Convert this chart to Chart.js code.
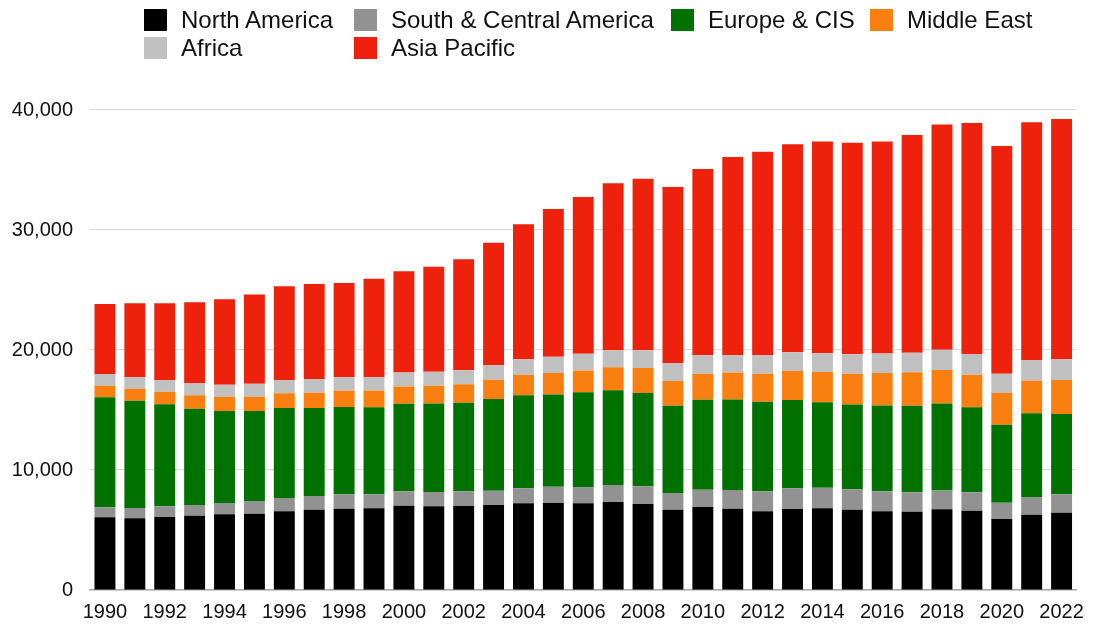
<!DOCTYPE html>
<html>
<head>
<meta charset="utf-8">
<script src="https://cdn.jsdelivr.net/npm/chart.js@4"></script>
<style>
  html, body { margin: 0; padding: 0; background: #ffffff; }
  #wrap { position: relative; width: 1094px; height: 625px; }
  #chart { position: absolute; left: 0; top: 0; }
  #legend { position: absolute; left: 0; top: 0; width: 1094px; height: 70px;
            font-family: "Liberation Sans", Arial, Helvetica, sans-serif; font-size: 24px; color: #111; }
  .item { position: absolute; height: 23px; line-height: 23px; white-space: nowrap; }
  .box { position: absolute; left: 0; top: 0; width: 23px; height: 22px; }
  .txt { position: absolute; left: 37px; top: -1px; }
</style>
</head>
<body>
<div id="wrap">
  <canvas id="chart" width="1094" height="625"></canvas>
  <div id="legend"></div>
</div>
<script>
const years = ["1990","1991","1992","1993","1994","1995","1996","1997","1998","1999","2000","2001","2002","2003","2004","2005","2006","2007","2008","2009","2010","2011","2012","2013","2014","2015","2016","2017","2018","2019","2020","2021","2022"];

const northAmerica = [6060,5970,6080,6190,6310,6360,6560,6690,6780,6810,7030,6970,7000,7080,7220,7250,7220,7330,7170,6690,6920,6780,6570,6750,6810,6690,6560,6530,6720,6610,5920,6280,6440];
const southCentralAmerica = [830,860,890,890,940,1060,1110,1140,1190,1170,1190,1190,1220,1190,1250,1360,1330,1420,1470,1390,1440,1560,1650,1720,1720,1700,1670,1610,1580,1530,1360,1470,1530];
const europeCIS = [9170,8950,8500,8030,7670,7500,7500,7330,7280,7250,7310,7390,7390,7640,7750,7690,7920,7890,7780,7280,7500,7530,7470,7360,7110,7060,7140,7220,7250,7080,6500,6970,6700];
const middleEast = [970,1000,1060,1110,1190,1190,1220,1280,1360,1390,1420,1470,1530,1610,1690,1780,1830,1920,2080,2060,2170,2250,2330,2420,2530,2580,2720,2780,2780,2720,2640,2720,2830];
const africa = [970,940,970,1030,1000,1080,1110,1140,1110,1110,1170,1170,1170,1220,1310,1360,1390,1420,1470,1500,1530,1470,1560,1560,1560,1610,1610,1640,1690,1720,1610,1720,1720];
const asiaPacific = [5830,6170,6390,6720,7110,7440,7810,7920,7860,8200,8450,8750,9250,10190,11250,12300,13060,13920,14310,14670,15530,16500,16950,17330,17640,17640,17670,18140,18780,19250,18970,19810,20030];

const seriesNames = ["North America","South & Central America","Europe & CIS","Middle East","Africa","Asia Pacific"];
const seriesColors = ["#000000","#929292","#017100","#f98010","#c0c0c0","#ee220c"];
const seriesValues = [northAmerica, southCentralAmerica, europeCIS, middleEast, africa, asiaPacific];

const yTicks = [0, 10000, 20000, 30000, 40000];

const FONT = "'Liberation Sans', Arial, Helvetica, sans-serif";

// HTML legend laid out in a grid (like the reference)
const legendPos = [
  {x:144, y:9}, {x:354, y:9}, {x:671, y:9}, {x:870, y:9},
  {x:144, y:37}, {x:354, y:37}
];
const legendEl = document.getElementById('legend');
seriesNames.forEach((name, i) => {
  const it = document.createElement('div');
  it.className = 'item';
  it.style.left = legendPos[i].x + 'px';
  it.style.top = legendPos[i].y + 'px';
  const b = document.createElement('div');
  b.className = 'box';
  b.style.background = seriesColors[i];
  const t = document.createElement('span');
  t.className = 'txt';
  t.textContent = name;
  it.appendChild(b); it.appendChild(t);
  legendEl.appendChild(it);
});

const datasets = seriesNames.map((name, i) => ({
  label: name,
  data: seriesValues[i],
  backgroundColor: seriesColors[i],
  borderWidth: 0,
  barPercentage: 0.7,
  categoryPercentage: 1.0
}));

new Chart(document.getElementById('chart'), {
  type: 'bar',
  data: { labels: years, datasets: datasets },
  options: {
    responsive: false,
    animation: false,
    layout: { padding: { top: 110, bottom: 1, left: 10, right: 12 } },
    plugins: { legend: { display: false }, tooltip: { enabled: false } },
    scales: {
      x: {
        stacked: true,
        afterFit: function(scale) { scale.height = 34; },
        grid: { display: false, drawTicks: false },
        border: { display: true, color: '#a8a8a8', width: 1.5 },
        ticks: {
          autoSkip: false, maxRotation: 0, minRotation: 0, padding: 10,
          color: '#111', font: { family: FONT, size: 20 },
          callback: function(v, i) { return i % 2 === 0 ? years[i] : ''; }
        }
      },
      y: {
        stacked: true,
        min: 0, max: 40000,
        afterFit: function(scale) { scale.width = 80; },
        afterBuildTicks: function(scale) { scale.ticks = yTicks.map(v => ({ value: v })); },
        grid: { color: '#dedede', lineWidth: 1.2, drawTicks: false },
        border: { display: false },
        ticks: {
          padding: 17, color: '#111', font: { family: FONT, size: 20 },
          callback: function(v) { return v.toLocaleString('en-US'); }
        }
      }
    }
  }
});
</script>
</body>
</html>
